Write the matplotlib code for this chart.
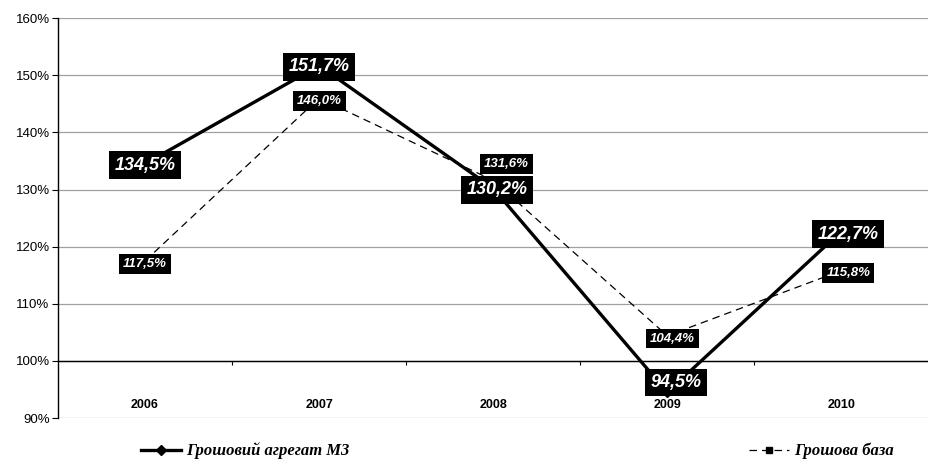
import numpy as np
import matplotlib.pyplot as plt
from matplotlib.ticker import FixedLocator

years = ['2006', '2007', '2008', '2009', '2010']
m3 = [134.5, 151.7, 130.2, 94.5, 122.7]
base = [117.5, 146.0, 131.6, 104.4, 115.8]
m3_labels = ['134,5%', '151,7%', '130,2%', '94,5%', '122,7%']
base_labels = ['117,5%', '146,0%', '131,6%', '104,4%', '115,8%']

plt.rcParams['font.family'] = ['Liberation Sans', 'DejaVu Sans']

fig = plt.figure(figsize=(9.29, 4.66), dpi=100)
ax = fig.add_axes([0.0624, 0.103, 0.937, 0.858])

x = np.arange(len(years))
ax.plot(x, base, color='black', lw=0.9, ls=(0, (6, 4)), marker='s', ms=5,
        label='Грошова база', zorder=3)
ax.plot(x, m3, color='black', lw=2.4, marker='D', ms=5,
        label='Грошовий агрегат М3', zorder=4)

# label offsets in points (moved where boxes would overlap)
base_off = [(0, -2), (0, -2), (9.5, 12), (3.6, -2), (5, -2)]
for xi, v, t, off in zip(x, base, base_labels, base_off):
    ax.annotate(t, (xi, v), xytext=off, textcoords='offset points',
                ha='center', va='center', color='white', fontsize=9.5,
                fontweight='bold', fontstyle='italic', zorder=5,
                bbox=dict(boxstyle='square,pad=0.3', fc='black', ec='none'))
m3_off = [(0, -1), (0, -1), (3, -1), (6, 7), (5, -2)]
for xi, v, t, off in zip(x, m3, m3_labels, m3_off):
    ax.annotate(t, (xi, v), xytext=off, textcoords='offset points',
                ha='center', va='center', color='white', fontsize=13,
                fontweight='bold', fontstyle='italic', zorder=6,
                bbox=dict(boxstyle='square,pad=0.3', fc='black', ec='none'))

ax.set_xlim(-0.5, 4.5)
ax.set_ylim(90, 160)
ax.set_yticks(np.arange(90, 161, 10))
ax.set_yticklabels([f'{v}%' for v in range(90, 161, 10)], fontsize=9.5)
ax.tick_params(axis='y', length=4, width=0.8, pad=2)
ax.grid(axis='y', color='#a0a0a0', lw=0.9, zorder=0)

# category axis crosses at 100%
ax.spines['bottom'].set_position(('data', 100))
ax.spines['bottom'].set_linewidth(1.0)
ax.spines['top'].set_visible(False)
ax.spines['right'].set_visible(False)
ax.spines['left'].set_linewidth(1.0)
ax.xaxis.set_major_locator(FixedLocator([0.5, 1.5, 2.5, 3.5]))
ax.set_xticklabels([])
ax.tick_params(axis='x', length=3, width=0.8, direction='out')
for xi, yr in zip(x, years):
    ax.text(xi, 92.3, yr, ha='center', va='center', fontsize=9,
            fontweight='bold', zorder=2)

handles, labels = ax.get_legend_handles_labels()
fig.legend(handles[::-1], labels[::-1], loc='center', bbox_to_anchor=(0.557, 0.032),
           ncol=2, frameon=False, columnspacing=24, handlelength=2.4,
           handletextpad=0.3,
           prop=dict(family='Liberation Serif', style='italic', weight='bold', size=12))

fig.savefig('out.png', dpi=100)
